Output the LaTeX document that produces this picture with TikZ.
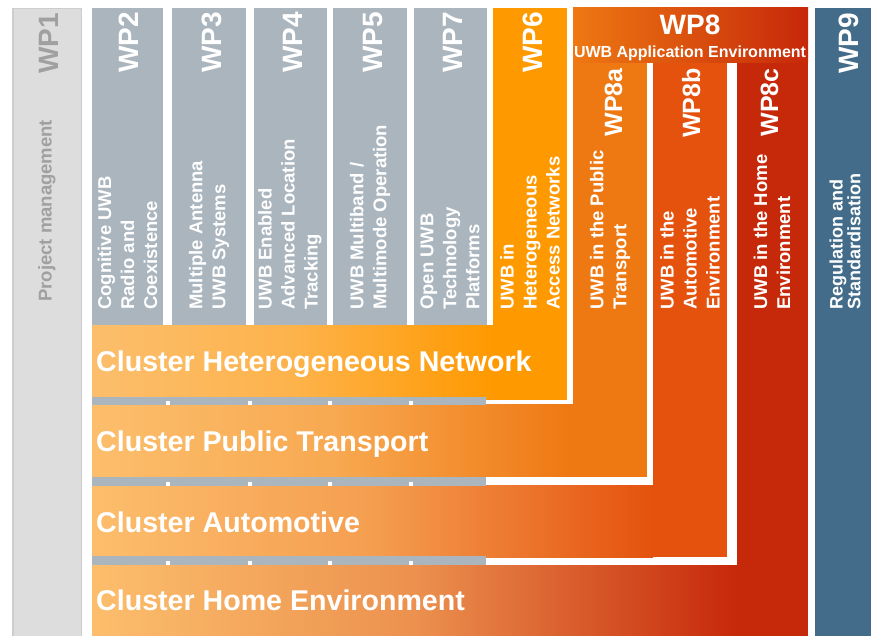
\documentclass[tikz,border=0pt]{standalone}
\usepackage{fontspec}
\setmainfont{Liberation Sans}
\definecolor{wpgray}{RGB}{170,181,190}
\definecolor{wponefill}{RGB}{221,221,221}
\definecolor{wponeline}{RGB}{205,205,205}
\definecolor{wponetext}{RGB}{160,160,160}
\definecolor{bandlight}{RGB}{252,190,108}
\definecolor{wpsix}{RGB}{255,153,0}
\definecolor{wpeighta}{RGB}{238,120,18}
\definecolor{wpeightb}{RGB}{228,82,14}
\definecolor{wpeightc}{RGB}{198,40,10}
\definecolor{wpnine}{RGB}{66,108,137}

\begin{document}
\begin{tikzpicture}[x=1pt,y=-1pt,
  wp/.style={rotate=90,anchor=base east,inner sep=0pt,text=white,font=\fontsize{28}{28}\selectfont\bfseries},%numeros des WP
  desc/.style={rotate=90,anchor=west,inner sep=0pt,text=white,align=left,font=\fontsize{18.5}{23}\selectfont\bfseries},%intitules des WP
  cluster/.style={anchor=base west,inner sep=0pt,text=white,font=\fontsize{28.6}{28.6}\selectfont\bfseries},%bandes horizontales
  band/.style={left color=bandlight,right color=#1,middle color=bandlight!70!#1}]
\useasboundingbox (0,0) rectangle (871,636);

% WP1
\filldraw[fill=wponefill,draw=wponeline,line width=1.5pt] (12.75,8.75) rectangle (81.25,645);
% colonnes grises
\foreach \xa/\xb in {92/163,172/246,254/327,333/407,414/487}
  \fill[wpgray] (\xa,8) rectangle (\xb,326);

% bandes + colonnes WP6, WP8a, WP8b, WP8c
\fill[band=wpeightc] (92,565) rectangle (737,640);
\fill[wpeightc] (737,63) rectangle (808,640);
\fill[band=wpeightb] (92,486) rectangle (653,557);
\fill[wpeightb] (653,63) rectangle (727,557);
\fill[band=wpeighta] (92,405) rectangle (573,477);
\fill[wpeighta] (573,63) rectangle (647,477);
\fill[band=wpsix] (92,326) rectangle (493,400);
\fill[wpsix] (493,8) rectangle (567,400);
\fill[left color=wpeighta,right color=wpeightc] (573,8) rectangle (808,63);% WP8
\fill[wpnine] (815,8) rectangle (880,640);% WP9

% raccords gris entre les bandes
\foreach \ya/\yb in {397/405,477/486,556/565}{
  \fill[wpgray] (92,\ya) rectangle (486,\yb);
  \foreach \xn in {166,248,328,409}
    \fill[white] (\xn,\yb-4) rectangle (\xn+4,\yb);
}

\node[wp,text=wponetext] (wp1) at (58,13) {WP1};
\node[desc,text=wponetext] (pm) at (47,302) {Project management};
\node[wp] (wp2) at (138,12) {WP2};
\node[desc] (d2) at (127.5,310) {Cognitive UWB\\Radio and\\Coexistence};
\node[wp] (wp3) at (221,12) {WP3};
\node[desc] (d3) at (209,310) {Multiple Antenna\\UWB Systems};
\node[wp] (wp4) at (302,12) {WP4};
\node[desc] (d4) at (290,310) {UWB Enabled\\Advanced Location\\Tracking};
\node[wp] (wp5) at (382,12) {WP5};
\node[desc] (d5) at (370,310) {UWB Multiband /\\Multimode Operation};
\node[wp] (wp7) at (462,12) {WP7};
\node[desc] (d7) at (450,310) {Open UWB\\Technology\\Platforms};
\node[wp] (wp6) at (542,12) {WP6};
\node[desc] (d6) at (530,310) {UWB in\\Heterogeneous\\Access Networks};

\node[anchor=base,inner sep=0pt,text=white,font=\fontsize{28}{28}\selectfont\bfseries] (wp8) at (690,35) {WP8};
\node[anchor=base,inner sep=0pt,text=white,font=\fontsize{16}{16}\selectfont\bfseries] (wp8t) at (690,58) {UWB Application Environment};
\node[wp,font=\fontsize{25}{25}\selectfont\bfseries] (wp8a) at (622,68) {WP8a};
\node[desc] (d8a) at (610,310) {UWB in the Public\\Transport};
\node[wp,font=\fontsize{25}{25}\selectfont\bfseries] (wp8b) at (700,68) {WP8b};
\node[desc] (d8b) at (690,310) {UWB in the\\Automotive\\Environment};
\node[wp,font=\fontsize{25}{25}\selectfont\bfseries] (wp8c) at (778,68) {WP8c};
\node[desc] (d8c) at (772,310) {UWB in the Home\\Environment};
\node[wp] (wp9) at (858,13) {WP9};
\node[desc,font=\fontsize{18}{16}\selectfont\bfseries] (d9) at (845,310) {Regulation and\\Standardisation};

\node[cluster] (chn) at (96,372) {Cluster Heterogeneous Network};
\node[cluster] (cpt) at (96,452) {Cluster Public Transport};
\node[cluster] (cau) at (96,532) {Cluster Automotive};
\node[cluster] (che) at (96,610) {Cluster Home Environment};
\end{tikzpicture}
\end{document}
